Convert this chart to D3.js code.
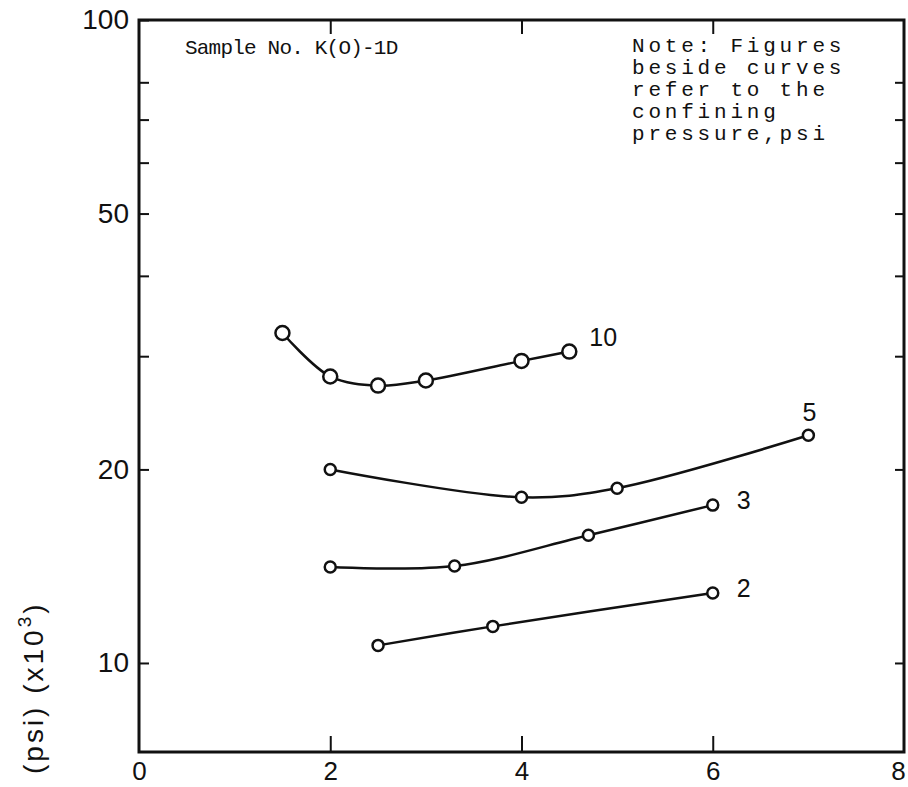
<!DOCTYPE html>
<html>
<head>
<meta charset="utf-8">
<script src="https://cdn.jsdelivr.net/npm/d3@7"></script>
<style>
  html, body { margin: 0; padding: 0; background: #fff; }
  svg { display: block; }
</style>
</head>
<body>
<svg id="chart" width="908" height="787"></svg>
<script>
// confining pressure of each curve, psi
const pressures = ["10", "5", "3", "2"]

// x values
const x_p10 = [1.5, 2.0, 2.5, 3.0, 4.0, 4.5]
const x_p5 = [2.0, 4.0, 5.0, 7.0]
const x_p3 = [2.0, 3.3, 4.7, 6.0]
const x_p2 = [2.5, 3.7, 6.0]

// y values (psi x10^3), log axis
const y_p10 = [32.6, 27.9, 27.0, 27.5, 29.5, 30.5]
const y_p5 = [20.0, 18.1, 18.7, 22.6]
const y_p3 = [14.1, 14.15, 15.8, 17.6]
const y_p2 = [10.65, 11.4, 12.85]

const x_ticks = [0, 2, 4, 6, 8]
const y_ticks = [10, 20, 30, 40, 50, 60, 70, 80, 100]
const y_labels = [10, 20, 50, 100]

const note_lines = ["Note: Figures", "beside curves", "refer to the", "confining", "pressure,psi"]

const series = [
  { name: pressures[0], xs: x_p10, ys: y_p10 },
  { name: pressures[1], xs: x_p5, ys: y_p5 },
  { name: pressures[2], xs: x_p3, ys: y_p3 },
  { name: pressures[3], xs: x_p2, ys: y_p2 }
]

const svg = d3.select("#chart")
const plot_left = 139, plot_right = 904, plot_top = 20, plot_bottom = 752

const x = d3.scaleLinear().domain([0, 8]).range([plot_left, plot_right])
const y = d3.scaleLog().domain([7.27, 100]).range([plot_bottom, plot_top])

const ink = "#111"
const label_font = "'Liberation Sans', Arial, sans-serif"
const mono_font = "'Liberation Mono', 'Courier New', monospace"

// frame
svg.append("rect")
  .attr("x", plot_left).attr("y", plot_top)
  .attr("width", plot_right - plot_left).attr("height", plot_bottom - plot_top)
  .attr("fill", "none").attr("stroke", ink).attr("stroke-width", 3)

// left axis: inward ticks, labels only at 10 20 50 100
const left_axis = d3.axisLeft(y)
  .tickValues(y_ticks)
  .tickSizeInner(-10).tickSizeOuter(0)
  .tickPadding(10)
  .tickFormat(d => y_labels.includes(d) ? d : "")
svg.append("g")
  .attr("transform", `translate(${plot_left},0)`)
  .call(left_axis)
  .call(g => g.select(".domain").remove())
  .call(g => g.selectAll(".tick line").attr("stroke", ink).attr("stroke-width", 2))
  .call(g => g.selectAll(".tick text")
    .attr("font-family", label_font).attr("font-size", 28).attr("fill", ink))

// right axis
svg.append("g")
  .attr("transform", `translate(${plot_right},0)`)
  .call(d3.axisRight(y).tickValues(y_ticks.slice(0, -1)).tickSizeInner(-9).tickSizeOuter(0).tickFormat(""))
  .call(g => g.select(".domain").remove())
  .call(g => g.selectAll(".tick line").attr("stroke", ink).attr("stroke-width", 2))

// bottom axis
svg.append("g")
  .attr("transform", `translate(0,${plot_bottom})`)
  .call(d3.axisBottom(x).tickValues(x_ticks).tickSizeInner(0).tickSizeOuter(0).tickPadding(10))
  .call(g => g.select(".domain").remove())
  .call(g => g.selectAll(".tick line").remove())
  .call(g => g.selectAll(".tick text")
    .attr("font-family", label_font).attr("font-size", 26).attr("fill", ink)
    .attr("dx", d => d === 8 ? -6 : 0))
svg.append("g")
  .attr("transform", `translate(0,${plot_bottom})`)
  .call(d3.axisBottom(x).tickValues(x_ticks.slice(1, -1)).tickSizeInner(-16).tickSizeOuter(0).tickFormat(""))
  .call(g => g.select(".domain").remove())
  .call(g => g.selectAll(".tick line").attr("stroke", ink).attr("stroke-width", 2))

// top axis
svg.append("g")
  .attr("transform", `translate(0,${plot_top})`)
  .call(d3.axisTop(x).tickValues(x_ticks.slice(1, -1)).tickSizeInner(-14).tickSizeOuter(0).tickFormat(""))
  .call(g => g.select(".domain").remove())
  .call(g => g.selectAll(".tick line").attr("stroke", ink).attr("stroke-width", 2))

// y axis title (only the visible part)
const ytitle = svg.append("text")
  .attr("transform", "translate(43,774) rotate(-90)")
  .attr("font-family", label_font).attr("font-size", 28)
  .attr("letter-spacing", 3)
  .attr("fill", ink)
ytitle.append("tspan").text("(psi)  (x10")
ytitle.append("tspan").attr("dy", -12).attr("font-size", 19).text("3")
ytitle.append("tspan").attr("dy", 12).text(")")

// curves
const line = d3.line()
  .x(d => x(d[0]))
  .y(d => y(d[1]))
  .curve(d3.curveCatmullRom.alpha(0.5))

const groups = svg.append("g").selectAll("g")
  .data(series)
  .join("g")

groups.append("path")
  .attr("d", d => line(d3.zip(d.xs, d.ys)))
  .attr("fill", "none").attr("stroke", ink).attr("stroke-width", 2.5)

groups.selectAll("circle")
  .data(d => d3.zip(d.xs, d.ys).map(p => ({ p, s: d.name })))
  .join("circle")
  .attr("cx", d => x(d.p[0]))
  .attr("cy", d => y(d.p[1]))
  .attr("r", d => d.s === "10" ? 7 : 5.5)
  .attr("fill", "#fff").attr("stroke", ink).attr("stroke-width", 2.5)

// pressure labels beside the curve ends
const label_offset = { "10": [20, -6], "5": [-6, -14], "3": [24, 4], "2": [24, 4] }
groups.append("text")
  .attr("x", d => x(d.xs[d.xs.length - 1]) + label_offset[d.name][0])
  .attr("y", d => y(d.ys[d.ys.length - 1]) + label_offset[d.name][1])
  .attr("font-family", label_font).attr("font-size", 25).attr("fill", ink)
  .text(d => d.name)

// annotations
svg.append("text")
  .attr("x", 185).attr("y", 54)
  .attr("font-family", mono_font).attr("font-size", 21)
  .attr("letter-spacing", -0.8).attr("fill", ink)
  .text("Sample No. K(O)-1D")

svg.append("g").selectAll("text")
  .data(note_lines)
  .join("text")
  .attr("x", 632)
  .attr("y", (d, i) => 52 + i * 22)
  .attr("font-family", mono_font).attr("font-size", 21)
  .attr("letter-spacing", 3.8).attr("fill", ink)
  .text(d => d)
</script>
</body>
</html>
